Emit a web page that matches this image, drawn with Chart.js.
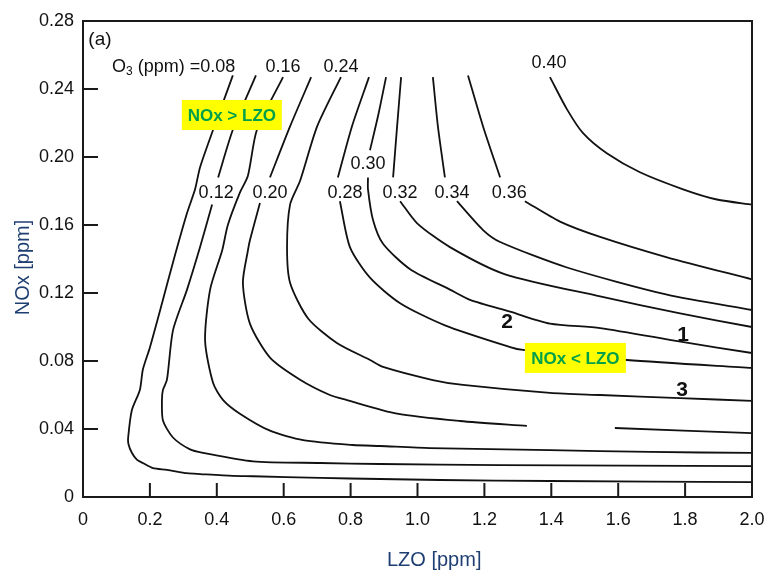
<!DOCTYPE html>
<html>
<head>
<meta charset="utf-8">
<script src="https://cdn.jsdelivr.net/npm/chart.js@4.4.1/dist/chart.umd.min.js"></script>
<style>
  body { margin: 0; background: #fff; }
  canvas { display: block; }
</style>
</head>
<body>
<canvas id="isopleth" width="767" height="572"></canvas>
<script>
// ozone isopleths, each point is [LZO ppm, NOx ppm], null = break in the line
const o3_008 = [[0.448,0.248],[0.389,0.216],[0.350,0.194],[0.335,0.181],[0.311,0.167],[0.269,0.138],[0.239,0.116],[0.200,0.088],[0.179,0.075],[0.170,0.063],[0.146,0.051],[0.135,0.035],[0.136,0.031],[0.146,0.026],[0.161,0.022],[0.179,0.020],[0.209,0.017],[0.251,0.016],[0.311,0.014],[0.350,0.0135],[0.448,0.0124],[0.508,0.0122],[0.709,0.0112],[0.888,0.0106],[1.067,0.0100],[1.396,0.0094],[2.0,0.0088]];
const o3_012 = [[0.517,0.248],[0.448,0.216],[0.404,0.188],null,[0.386,0.172],[0.350,0.147],[0.311,0.122],[0.269,0.098],[0.251,0.069],[0.239,0.063],[0.236,0.057],[0.239,0.045],[0.269,0.035],[0.320,0.028],[0.359,0.026],[0.508,0.021],[0.709,0.020],[0.888,0.0194],[1.247,0.0188],[2.0,0.0182]];
const o3_016 = [[0.598,0.247],[0.520,0.216],[0.493,0.189],[0.469,0.179],[0.433,0.160],[0.416,0.145],[0.380,0.122],[0.365,0.092],[0.389,0.067],[0.419,0.057],[0.469,0.049],[0.559,0.039],[0.658,0.0335],[0.807,0.0306],[0.888,0.0300],[1.037,0.0288],[1.396,0.0276],[1.695,0.0265],[2.0,0.0259]];
const o3_020 = [[0.682,0.247],[0.619,0.218],[0.559,0.188],null,[0.529,0.173],[0.499,0.151],[0.493,0.145],[0.478,0.126],[0.499,0.102],[0.559,0.082],[0.649,0.069],[0.738,0.060],[0.789,0.057],[0.939,0.049],[1.127,0.0447],[1.327,0.0418],null,[1.590,0.0406],[2.0,0.0376]];
const o3_024 = [[0.771,0.247],[0.700,0.218],[0.649,0.186],[0.619,0.172],[0.610,0.147],[0.619,0.126],[0.673,0.105],[0.759,0.0906],[0.858,0.0806],[0.897,0.0765],[1.046,0.0688],[1.136,0.0659],[1.396,0.0612],[1.546,0.0600],[1.785,0.0582],[2.0,0.0565]];
const o3_028 = [[0.855,0.247],[0.804,0.218],[0.762,0.188],null,[0.768,0.174],[0.798,0.147],[0.858,0.129],[0.948,0.114],[1.082,0.101],[1.277,0.0882],[1.315,0.0865],[1.626,0.0806],[2.0,0.0759]];
const o3_030 = [[0.906,0.247],[0.883,0.225],[0.858,0.204],null,[0.852,0.188],[0.852,0.181],[0.867,0.163],[0.897,0.149],[0.978,0.134],[1.097,0.122],[1.157,0.116],[1.277,0.109],[1.396,0.102],[1.546,0.0994],[1.791,0.0912],[2.0,0.0847]];
const o3_032 = [[0.951,0.247],[0.939,0.218],[0.927,0.188],null,[0.948,0.174],[0.999,0.161],[1.097,0.147],[1.262,0.131],[1.546,0.118],[1.785,0.108],[2.0,0.100]];
const o3_034 = [[1.046,0.247],[1.061,0.218],[1.082,0.188],null,[1.118,0.174],[1.196,0.157],[1.247,0.150],[1.447,0.135],[1.746,0.119],[2.0,0.110]];
const o3_036 = [[1.151,0.248],[1.196,0.218],[1.247,0.188],null,[1.321,0.174],[1.426,0.162],[1.546,0.153],[1.746,0.141],[2.0,0.128]];
const o3_040 = [[1.396,0.247],[1.447,0.228],[1.495,0.214],[1.567,0.202],[1.665,0.191],[1.794,0.181],[1.895,0.175],[2.0,0.172]];

// tick labels
const lzoTicks = ['0','0.2','0.4','0.6','0.8','1.0','1.2','1.4','1.6','1.8','2.0'];
const noxTicks = ['0','0.04','0.08','0.12','0.16','0.20','0.24','0.28'];

// contour labels: text, LZO, NOx
const isoLabels = [
  ['0.12',0.398,0.179],['0.20',0.559,0.179],['0.28',0.783,0.179],['0.30',0.852,0.196],
  ['0.32',0.948,0.179],['0.34',1.103,0.179],['0.36',1.274,0.179],
  ['0.16',0.598,0.253],['0.24',0.771,0.253],['0.40',1.393,0.255]
];
const regimeMarks = [['1',1.794,0.095],['2',1.268,0.103],['3',1.791,0.063]];

const curves = [o3_008, o3_012, o3_016, o3_020, o3_024, o3_028, o3_030, o3_032, o3_034, o3_036, o3_040];

// split every curve at the nulls so the label gaps stay open
const datasets = [];
curves.forEach(c => {
  let seg = [];
  c.forEach(p => {
    if (p === null) { datasets.push(seg); seg = []; }
    else seg.push({ x: p[0], y: p[1] });
  });
  datasets.push(seg);
});

const FONT = '"Liberation Sans", Arial, sans-serif';

function yellowBox(ctx, cx, cy, w, h, text) {
  ctx.fillStyle = '#ffff00';
  ctx.fillRect(cx - w / 2, cy - h / 2, w, h);
  ctx.fillStyle = '#00a04a';
  ctx.font = 'bold 17px ' + FONT;
  ctx.textAlign = 'center';
  ctx.textBaseline = 'middle';
  ctx.fillText(text, cx, cy + 1);
}

const decor = {
  id: 'decor',
  afterDatasetsDraw(chart) {
    const { ctx, chartArea: a, scales: { x, y } } = chart;
    ctx.save();

    // top and right frame
    ctx.strokeStyle = '#1a1a1a';
    ctx.lineWidth = 2;
    ctx.beginPath();
    ctx.moveTo(a.left, a.top);
    ctx.lineTo(a.right, a.top);
    ctx.lineTo(a.right, a.bottom);
    ctx.stroke();

    // ticks pointing into the plot
    ctx.beginPath();
    x.ticks.forEach((t, i) => {
      if (i === 0 || i === x.ticks.length - 1) return;
      const px = x.getPixelForValue(t.value);
      ctx.moveTo(px, a.bottom);
      ctx.lineTo(px, a.bottom - 14);
    });
    y.ticks.forEach((t, i) => {
      if (i === 0 || i === y.ticks.length - 1) return;
      const py = y.getPixelForValue(t.value);
      ctx.moveTo(a.left, py);
      ctx.lineTo(a.left + 15, py);
    });
    ctx.stroke();

    ctx.fillStyle = '#111';
    ctx.textAlign = 'center';
    ctx.textBaseline = 'middle';
    ctx.font = '18px ' + FONT;
    isoLabels.forEach(l => ctx.fillText(l[0], x.getPixelForValue(l[1]), y.getPixelForValue(l[2])));

    ctx.font = 'bold 21px ' + FONT;
    regimeMarks.forEach(l => ctx.fillText(l[0], x.getPixelForValue(l[1]), y.getPixelForValue(l[2])));

    // O3 (ppm) =0.08
    ctx.font = '18px ' + FONT;
    ctx.textAlign = 'left';
    let tx = x.getPixelForValue(0.087);
    const ty = y.getPixelForValue(0.253);
    ctx.fillText('O', tx, ty);
    tx += ctx.measureText('O').width;
    ctx.font = '12px ' + FONT;
    ctx.fillText('3', tx, ty + 5);
    tx += ctx.measureText('3').width;
    ctx.font = '18px ' + FONT;
    ctx.fillText(' (ppm) =0.08', tx, ty);

    ctx.font = '19px ' + FONT;
    ctx.fillText('(a)', x.getPixelForValue(0.016), y.getPixelForValue(0.269));

    yellowBox(ctx, x.getPixelForValue(0.445), y.getPixelForValue(0.2247), 100, 30, 'NOx > LZO');
    yellowBox(ctx, x.getPixelForValue(1.472), y.getPixelForValue(0.0818), 101, 30, 'NOx < LZO');

    // axis titles
    ctx.fillStyle = '#1f3f73';
    ctx.font = '20px ' + FONT;
    ctx.textAlign = 'center';
    ctx.fillText('LZO [ppm]', x.getPixelForValue(1.05), 560);
    ctx.translate(23, y.getPixelForValue(0.135));
    ctx.rotate(-Math.PI / 2);
    ctx.fillText('NOx [ppm]', 0, 0);

    ctx.restore();
  }
};

new Chart(document.getElementById('isopleth'), {
  type: 'scatter',
  data: {
    datasets: datasets.map(d => ({
      data: d,
      showLine: true,
      borderColor: '#111',
      borderWidth: 1.8,
      pointRadius: 0,
      tension: 0.25,
      fill: false
    }))
  },
  options: {
    responsive: false,
    devicePixelRatio: 1,
    animation: false,
    layout: { padding: { left: 0, right: 15, top: 21, bottom: 0 } },
    plugins: { legend: { display: false }, tooltip: { enabled: false } },
    scales: {
      x: {
        type: 'linear',
        min: 0, max: 2,
        grid: { display: false, drawTicks: false },
        border: { display: true, color: '#1a1a1a', width: 2 },
        ticks: {
          stepSize: 0.2,
          padding: 12,
          color: '#111',
          font: { family: FONT, size: 18 },
          maxRotation: 0,
          callback: (v, i) => lzoTicks[i]
        },
        // fixed box so the plot frame lands where the reference has it
        afterFit: s => { s.height = 75; s.paddingLeft = 0; s.paddingRight = 0; }
      },
      y: {
        type: 'linear',
        min: 0, max: 0.28,
        grid: { display: false, drawTicks: false },
        border: { display: true, color: '#1a1a1a', width: 2 },
        ticks: {
          stepSize: 0.04,
          padding: 9,
          color: '#111',
          font: { family: FONT, size: 18 },
          callback: (v, i) => noxTicks[i]
        },
        afterFit: s => { s.width = 83; s.paddingTop = 0; s.paddingBottom = 0; }
      }
    }
  },
  plugins: [decor]
});
</script>
</body>
</html>
